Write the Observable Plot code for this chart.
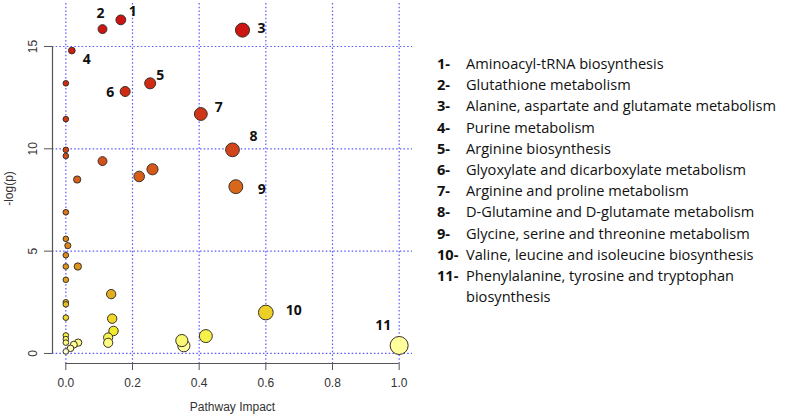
<!DOCTYPE html>
<html>
<head>
<meta charset="utf-8">
<script src="https://cdn.jsdelivr.net/npm/d3@7"></script>
<script src="https://cdn.jsdelivr.net/npm/@observablehq/plot@0.6"></script>
<style>
  html, body { margin: 0; padding: 0; background: #fff; }
  #wrap { position: relative; width: 787px; height: 420px; overflow: hidden; }
  #chart { position: absolute; left: 0; top: 0; }
  #legend { position: absolute; left: 437px; top: 53px; font-family: "Open Sans", sans-serif; font-size: 14.6px; color: #111; line-height: 21.2px; }
  #legend .row { display: flex; }
  #legend .num { width: 29px; flex: none; font-weight: bold; }
  #legend .txt { width: 320px; }
</style>
</head>
<body>
<div id="wrap">
  <div id="chart"></div>
  <div id="legend"></div>
</div>
<script>
// Labelled pathways
const pathwayIds = ["1", "2", "3", "4", "5", "6", "7", "8", "9", "10", "11"];
const pathwayNames = [
  "Aminoacyl-tRNA biosynthesis",
  "Glutathione metabolism",
  "Alanine, aspartate and glutamate metabolism",
  "Purine metabolism",
  "Arginine biosynthesis",
  "Glyoxylate and dicarboxylate metabolism",
  "Arginine and proline metabolism",
  "D-Glutamine and D-glutamate metabolism",
  "Glycine, serine and threonine metabolism",
  "Valine, leucine and isoleucine biosynthesis",
  "Phenylalanine, tyrosine and tryptophan biosynthesis"
];
const pathwayImpact = [0.165, 0.11, 0.53, 0.018, 0.253, 0.178, 0.405, 0.50, 0.51, 0.60, 1.00];
const pathwayLogP   = [16.3, 15.85, 15.8, 14.8, 13.2, 12.8, 11.7, 9.95, 8.15, 2.0, 0.39];

// Unlabelled pathways
const otherImpact = [0, 0, 0, 0, 0.11, 0.034, 0.22, 0.26, 0, 0, 0.006, 0, 0, 0.036, 0, 0, 0, 0,
                     0.136, 0.139, 0.143, 0.127, 0.127, 0, 0, 0, 0.037, 0.024, 0.014, 0, 0.348, 0.354, 0.42];
const otherLogP   = [13.2, 11.45, 9.95, 9.65, 9.4, 8.5, 8.65, 9.0, 6.9, 5.6, 5.27, 4.8, 4.25, 4.25, 3.6, 2.5, 2.4, 1.75,
                     2.9, 1.7, 1.1, 0.78, 0.52, 0.88, 0.7, 0.53, 0.53, 0.43, 0.25, 0.1, 0.63, 0.38, 0.85];

// Axis ticks
const xTicks = [0, 0.2, 0.4, 0.6, 0.8, 1.0];
const yTicks = [0, 5, 10, 15];

// Label offsets (px) for numbers next to points
const labelOffsets = [[12, -8], [-2, -16], [19, -2], [15, 9], [10, -8], [-15, 1], [18, -7], [21, -13], [26, 3], [28, -2], [-16, -20]];

// Colour ramp (heat colours, by -log(p))
const colorStops  = [0, 0.4, 1, 2, 3, 5, 8, 10, 13, 16.3];
const colorValues = ["#fffff0", "#ffff99", "#f2ee30", "#ecd028", "#e2a822", "#da8a1c", "#d86a1a", "#d2441a", "#d02a14", "#cc1212"];

const labelled = pathwayIds.map((id, i) => ({id, name: pathwayNames[i], x: pathwayImpact[i], y: pathwayLogP[i]}));
const others = otherImpact.map((x, i) => ({x, y: otherLogP[i]}));
const allPts = d3.sort(labelled.concat(others), d => -d.y);

const xDomain = [-0.04, 1.04];
const yDomain = [-0.49, 17.1];

const grid = {stroke: "#3b3bff", strokeWidth: 1.2, strokeDasharray: "1.5,2.2", strokeOpacity: 0.85};
const fontAxis = "Liberation Sans, Arial, sans-serif";

const chart = Plot.plot({
  width: 430,
  height: 420,
  marginLeft: 52,
  marginRight: 18,
  marginTop: 3,
  marginBottom: 57,
  style: {fontFamily: fontAxis, fontSize: "12px", color: "#333", background: "transparent"},
  x: {domain: xDomain, axis: null},
  y: {domain: yDomain, axis: null},
  r: {type: "pow", exponent: 0.6, domain: [0, 1], range: [2.8, 9]},
  color: {type: "linear", domain: colorStops, range: colorValues},
  marks: [
    Plot.gridX(xTicks, {...grid}),
    Plot.gridY(yTicks, {...grid}),
    // axis lines
    Plot.ruleY([yDomain[0]], {x1: d3.min(xTicks), x2: d3.max(xTicks), stroke: "#555", strokeWidth: 1.2}),
    Plot.ruleX([xDomain[0]], {y1: d3.min(yTicks), y2: d3.max(yTicks), stroke: "#555", strokeWidth: 1.2}),
    // ticks
    Plot.axisX({ticks: xTicks, tickSize: 7, tickPadding: 8, tickFormat: d3.format(".1f"), label: null, stroke: "#555", fill: "#333"}),
    Plot.axisY({ticks: yTicks, tickSize: 8, tickFormat: () => "", label: null, stroke: "#555"}),
    Plot.text(yTicks, {y: d => d, text: d => String(d), frameAnchor: "left", rotate: -90, textAnchor: "middle", dx: -19, fill: "#333"}),
    Plot.text(["-log(p)"], {text: d => d, frameAnchor: "left", rotate: -90, textAnchor: "middle", dx: -43, dy: 5, fill: "#333"}),
    Plot.text(["Pathway Impact"], {text: d => d, frameAnchor: "bottom", textAnchor: "middle", dy: 47, fill: "#333"}),
    // points
    Plot.dot(allPts, {x: "x", y: "y", r: "x", fill: "y", stroke: "#3a3027", strokeWidth: 1}),
    // number labels
    ...labelled.map((d, i) => Plot.text([d], {
      x: "x", y: "y", text: "id", dx: labelOffsets[i][0], dy: labelOffsets[i][1],
      fontFamily: "Open Sans, sans-serif", fontWeight: "bold", fontSize: 14, fill: "#111"
    }))
  ]
});
document.getElementById("chart").appendChild(chart);

// Legend
const legend = document.getElementById("legend");
labelled.forEach(d => {
  const row = document.createElement("div");
  row.className = "row";
  const n = document.createElement("div");
  n.className = "num";
  n.textContent = d.id + "-";
  const t = document.createElement("div");
  t.className = "txt";
  t.textContent = d.name;
  row.appendChild(n);
  row.appendChild(t);
  legend.appendChild(row);
});
</script>
</body>
</html>
